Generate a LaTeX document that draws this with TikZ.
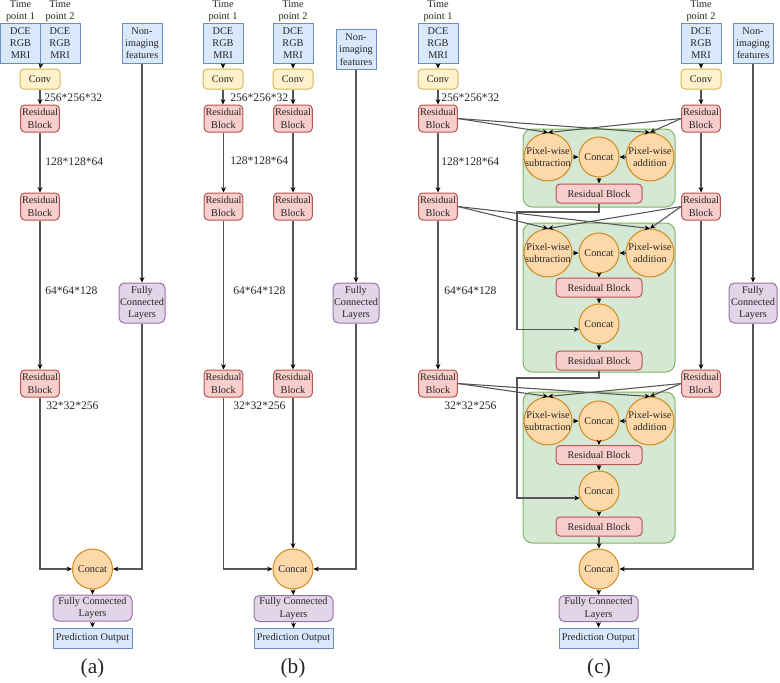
\documentclass[tikz,border=0pt]{standalone}
\usepackage{fontspec}
\setmainfont{Liberation Serif}
\usetikzlibrary{arrows.meta}
\definecolor{bfill}{HTML}{DAE8FC}\definecolor{bline}{HTML}{6C8EBF}
\definecolor{yfill}{HTML}{FFF2CC}\definecolor{yline}{HTML}{D6B656}
\definecolor{rfill}{HTML}{F8CECC}\definecolor{rline}{HTML}{B85450}
\definecolor{pfill}{HTML}{E1D5E7}\definecolor{pline}{HTML}{9673A6}
\definecolor{ofill}{HTML}{FDD8A8}\definecolor{oline}{HTML}{D08A1E}
\definecolor{gfill}{HTML}{D5E8D4}\definecolor{gline}{HTML}{82B366}
\definecolor{conn}{HTML}{555555}
\newcommand{\nf}{\fontsize{7.7}{9.2}\selectfont}
\newcommand{\lf}{\fontsize{8.7}{10}\selectfont}
\tikzset{
  base/.style={inner sep=0pt, align=center, font=\nf, line width=0.75pt, text=black!85},
  inbox/.style={base, draw=bline, fill=bfill, minimum width=30pt, minimum height=30pt},
  convbox/.style={base, draw=yline, fill=yfill, rounded corners=3pt, minimum width=30pt, minimum height=15pt},
  resbox/.style={base, draw=rline, fill=rfill, rounded corners=3pt, minimum width=29pt, minimum height=20.25pt},
  wideres/.style={resbox, minimum width=64.5pt, minimum height=14.25pt},
  fcbox/.style={base, draw=pline, fill=pfill, rounded corners=4pt, minimum width=34.5pt, minimum height=30pt},
  fcwide/.style={fcbox, minimum width=59.25pt, minimum height=19.5pt},
  predbox/.style={inbox, minimum width=59.25pt, minimum height=15pt},
  opcirc/.style={base, circle, draw=oline, fill=ofill, minimum size=36pt},
  catcirc/.style={opcirc, minimum size=30pt},
  grp/.style={draw=gline, fill=gfill, rounded corners=7pt, line width=0.75pt, inner sep=0pt},
  arr/.style={draw=conn, line width=0.8pt, -{Stealth[length=4pt,width=3.6pt,color=black]}},
  tlabel/.style={inner sep=0pt, font=\lf, anchor=west, text=black!85},
  ptext/.style={inner sep=0pt, font=\nf, align=center, text=black!85},
  capt/.style={inner sep=0pt, font=\fontsize{16}{18}\selectfont, text=black!85}
}
\begin{document}
\begin{tikzpicture}[x=0.75pt,y=-0.75pt]
\useasboundingbox (0,0) rectangle (780,682);

% ================= (a) =================
\node[ptext] (ta1) at (20.5,11) {Time\\point 1};
\node[ptext] (ta2) at (60,11) {Time\\point 2};
\node[inbox] (ia1) at (20.5,43) {DCE\\RGB\\MRI};
\node[inbox] (ia2) at (60,43) {DCE\\RGB\\MRI};
\node[convbox] (conva) at (40,79) {Conv};
\node[resbox] (ra1) at (40,118.5) {Residual\\Block};
\node[resbox] (ra2) at (40,206.5) {Residual\\Block};
\node[resbox] (ra3) at (40,383.5) {Residual\\Block};
\node[inbox] (na) at (142,43) {Non-\\imaging\\features};
\node[fcbox] (fa) at (142,303) {Fully\\Connected\\Layers};
\node[catcirc] (ca) at (92.5,569) {Concat};
\node[fcwide] (fca) at (92.5,608) {Fully Connected\\Layers};
\node[predbox] (pa) at (92.5,638) {Prediction Output};
\node[capt] (capa) at (92.5,668) {(a)};
\node[tlabel] (la1) at (44,98) {256*256*32};
\node[tlabel] (la2) at (45,162) {128*128*64};
\node[tlabel] (la3) at (45,291) {64*64*128};
\node[tlabel] (la4) at (46,406) {32*32*256};

\draw[arr] (ia1.south east) -- (conva.north);
\draw[arr] (conva) -- (ra1);
\draw[arr] (ra1) -- (ra2);
\draw[arr] (ra2) -- (ra3);
\draw[arr] (ra3.south) |- (ca.west);
\draw[arr] (na) -- (fa);
\draw[arr] (fa.south) |- (ca.east);
\draw[arr] (ca) -- (fca);
\draw[arr] (fca) -- (pa);

% ================= (b) =================
\node[ptext] (tb1) at (223,11) {Time\\point 1};
\node[ptext] (tb2) at (293,11) {Time\\point 2};
\node[inbox] (ib1) at (223,43) {DCE\\RGB\\MRI};
\node[inbox] (ib2) at (293,43) {DCE\\RGB\\MRI};
\node[convbox] (cvb1) at (223,79) {Conv};
\node[convbox] (cvb2) at (293,79) {Conv};
\node[resbox] (rb11) at (223.5,118.5) {Residual\\Block};
\node[resbox] (rb12) at (293,118.5) {Residual\\Block};
\node[resbox] (rb21) at (223.5,206.5) {Residual\\Block};
\node[resbox] (rb22) at (293,206.5) {Residual\\Block};
\node[resbox] (rb31) at (223.5,383.5) {Residual\\Block};
\node[resbox] (rb32) at (293,383.5) {Residual\\Block};
\node[inbox] (nb) at (356,49.5) {Non-\\imaging\\features};
\node[fcbox] (fb) at (356,303) {Fully\\Connected\\Layers};
\node[catcirc] (cb) at (293,569) {Concat};
\node[fcwide] (fcb) at (293.5,608.5) {Fully Connected\\Layers};
\node[predbox] (pb) at (293.5,638.5) {Prediction Output};
\node[capt] (capb) at (293,668) {(b)};
\node[tlabel] (lb1) at (230,98) {256*256*32};
\node[tlabel] (lb2) at (230,161) {128*128*64};
\node[tlabel] (lb3) at (233,291) {64*64*128};
\node[tlabel] (lb4) at (233,406) {32*32*256};

\draw[arr] (ib1) -- (cvb1);
\draw[arr] (ib2) -- (cvb2);
\draw[arr] (cvb1.south) -- (rb11.north -| cvb1.south);
\draw[arr] (cvb2) -- (rb12);
\draw[arr] (rb11) -- (rb21);
\draw[arr] (rb12) -- (rb22);
\draw[arr] (rb21) -- (rb31);
\draw[arr] (rb22) -- (rb32);
\draw[arr] (rb31.south) |- (cb.west);
\draw[arr] (rb32) -- (cb);
\draw[arr] (nb) -- (fb);
\draw[arr] (fb.south) |- (cb.east);
\draw[arr] (cb) -- (fcb);
\draw[arr] (fcb) -- (pb);

% ================= (c) =================
\node[grp, minimum width=114pt, minimum height=58.5pt] (g1) at (599,168) {};
\node[grp, minimum width=114pt, minimum height=111.75pt] (g2) at (599,297.5) {};
\node[grp, minimum width=114pt, minimum height=113.25pt] (g3) at (599,467.5) {};

\node[ptext] (tc1) at (438,11) {Time\\point 1};
\node[ptext] (tc2) at (701,11) {Time\\point 2};
\node[inbox] (ic1) at (438,43) {DCE\\RGB\\MRI};
\node[inbox] (ic2) at (701,43) {DCE\\RGB\\MRI};
\node[inbox] (nc) at (753,43) {Non-\\imaging\\features};
\node[convbox] (cvc1) at (438,79) {Conv};
\node[convbox] (cvc2) at (701,79) {Conv};
\node[resbox] (rc11) at (438,118.5) {Residual\\Block};
\node[resbox] (rc12) at (701,118.5) {Residual\\Block};
\node[resbox] (rc21) at (438,206.5) {Residual\\Block};
\node[resbox] (rc22) at (701,206.5) {Residual\\Block};
\node[resbox] (rc31) at (438,383.5) {Residual\\Block};
\node[resbox] (rc32) at (701,383.5) {Residual\\Block};
\node[fcbox, minimum width=36pt] (fc) at (753,303) {Fully\\Connected\\Layers};
\node[tlabel] (lc1) at (441,98) {256*256*32};
\node[tlabel] (lc2) at (441,162) {128*128*64};
\node[tlabel] (lc3) at (444,291) {64*64*128};
\node[tlabel] (lc4) at (444,406) {32*32*256};

% group 1
\node[opcirc] (s1) at (548,157) {};
\node[ptext] (s1t) at (s1) {Pixel-wise\\subtraction};
\node[opcirc] (a1) at (650,157) {};
\node[ptext] (a1t) at (a1) {Pixel-wise\\addition};
\node[catcirc] (k1) at (599,157) {Concat};
\node[wideres] (r1) at (599,193.5) {Residual Block};
% group 2
\node[opcirc] (s2) at (548,253) {};
\node[ptext] (s2t) at (s2) {Pixel-wise\\subtraction};
\node[opcirc] (a2) at (650,253) {};
\node[ptext] (a2t) at (a2) {Pixel-wise\\addition};
\node[catcirc] (k2) at (599,253) {Concat};
\node[wideres] (r2a) at (599,287.5) {Residual Block};
\node[catcirc] (k2b) at (599,324) {Concat};
\node[wideres] (r2b) at (599,360.5) {Residual Block};
% group 3
\node[opcirc] (s3) at (548,421) {};
\node[ptext] (s3t) at (s3) {Pixel-wise\\subtraction};
\node[opcirc] (a3) at (650,421) {};
\node[ptext] (a3t) at (a3) {Pixel-wise\\addition};
\node[catcirc] (k3) at (599,421) {Concat};
\node[wideres] (r3a) at (599,455) {Residual Block};
\node[catcirc] (k3b) at (599,491) {Concat};
\node[wideres] (r3b) at (599,526.5) {Residual Block};

\node[catcirc] (cc) at (599,569) {Concat};
\node[fcwide] (fcc) at (598.5,608.5) {Fully Connected\\Layers};
\node[predbox] (pc) at (598.5,638) {Prediction Output};
\node[capt] (capc) at (599,668) {(c)};

\coordinate (j1) at (517,212);
\coordinate (j2) at (517,378);

\draw[arr] (ic1) -- (cvc1);
\draw[arr] (ic2) -- (cvc2);
\draw[arr] (cvc1) -- (rc11);
\draw[arr] (cvc2) -- (rc12);
\draw[arr] (rc11) -- (rc21);
\draw[arr] (rc12) -- (rc22);
\draw[arr] (rc21) -- (rc31);
\draw[arr] (rc22) -- (rc32);
\draw[arr] (nc) -- (fc);
\draw[arr] (fc.south) |- (cc.east);

\draw[arr] (rc11.east) -- (s1.north);
\draw[arr] (rc11.east) -- (a1.north);
\draw[arr] (rc12.west) -- (s1.north);
\draw[arr] (rc12.west) -- (a1.north);
\draw[arr] (s1) -- (k1);
\draw[arr] (a1) -- (k1);
\draw[arr] (k1) -- (r1);
\draw[arr] (r1.south) |- (j1) |- (k2b.195);

\draw[arr] (rc21.east) -- (s2.north);
\draw[arr] (rc21.east) -- (a2.north);
\draw[arr] (rc22.west) -- (s2.north);
\draw[arr] (rc22.west) -- (a2.north);
\draw[arr] (s2) -- (k2);
\draw[arr] (a2) -- (k2);
\draw[arr] (k2) -- (r2a);
\draw[arr] (r2a) -- (k2b);
\draw[arr] (k2b) -- (r2b);
\draw[arr] (r2b.south) |- (j2) |- (k3b.200);

\draw[arr] (rc31.east) -- (s3.north);
\draw[arr] (rc31.east) -- (a3.north);
\draw[arr] (rc32.west) -- (s3.north);
\draw[arr] (rc32.west) -- (a3.north);
\draw[arr] (s3) -- (k3);
\draw[arr] (a3) -- (k3);
\draw[arr] (k3) -- (r3a);
\draw[arr] (r3a) -- (k3b);
\draw[arr] (k3b) -- (r3b);
\draw[arr] (r3b) -- (cc);
\draw[arr] (cc) -- (fcc);
\draw[arr] (fcc) -- (pc);
\end{tikzpicture}
\end{document}
